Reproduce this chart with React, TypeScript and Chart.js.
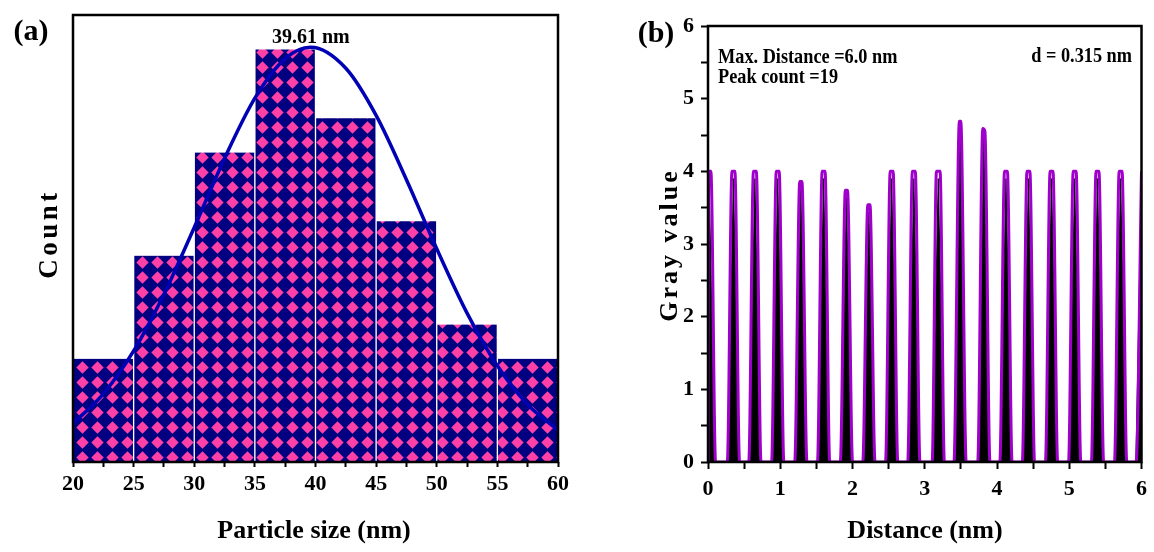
import React, { useEffect, useRef } from 'react';
import { Chart, registerables } from 'chart.js';

Chart.register(...registerables);

// ---------- Panel (a): particle size histogram ----------
const binCenters = [22.5, 27.5, 32.5, 37.5, 42.5, 47.5, 52.5, 57.5];
const binCounts = [3, 6, 9, 12, 10, 7, 4, 3];
const fitX = [20, 22.5, 25, 27.5, 30, 32.5, 35, 37.5, 39.61, 42.5, 45, 47.5, 50, 52.5, 55, 57.5, 60];
const fitY = [1.12, 1.98, 3.23, 4.88, 6.82, 8.83, 10.58, 11.73, 12.06, 11.45, 10.08, 8.21, 6.2, 4.33, 2.8, 1.67, 0.93];
const sizeTickLabels = ['20', '25', '30', '35', '40', '45', '50', '55', '60'];
const peakValue = 39.61;
const peakText = '39.61 nm';

// ---------- Panel (b): gray value line profile ----------
const grayProfile: [number, number][] = [
  [0, 0], [0.005, 4.0], [0.04, 4.0], [0.105, 0],
  [0.267, 0], [0.332, 4.0], [0.372, 4.0], [0.437, 0],
  [0.564, 0], [0.629, 4.0], [0.669, 4.0], [0.734, 0],
  [0.88, 0], [0.945, 4.0], [0.985, 4.0], [1.05, 0],
  [1.2, 0], [1.27, 3.86], [1.3, 3.86], [1.37, 0],
  [1.515, 0], [1.58, 4.0], [1.62, 4.0], [1.685, 0],
  [1.831, 0], [1.901, 3.74], [1.931, 3.74], [2.001, 0],
  [2.142, 0], [2.212, 3.54], [2.242, 3.54], [2.312, 0],
  [2.457, 0], [2.522, 4.0], [2.562, 4.0], [2.627, 0],
  [2.764, 0], [2.829, 4.0], [2.869, 4.0], [2.934, 0],
  [3.102, 0], [3.162, 4.0], [3.212, 4.0], [3.272, 0],
  [3.404, 0], [3.479, 4.69], [3.499, 4.69], [3.574, 0],
  [3.733, 0], [3.803, 4.59], [3.833, 4.55], [3.903, 0],
  [4.039, 0], [4.104, 4.0], [4.144, 4.0], [4.209, 0],
  [4.35, 0], [4.415, 4.0], [4.455, 4.0], [4.52, 0],
  [4.67, 0], [4.735, 4.0], [4.775, 4.0], [4.84, 0],
  [4.99, 0], [5.055, 4.0], [5.095, 4.0], [5.16, 0],
  [5.306, 0], [5.371, 4.0], [5.411, 4.0], [5.476, 0],
  [5.626, 0], [5.691, 4.0], [5.731, 4.0], [5.796, 0],
  [5.925, 0], [6.0, 4.0],
];
const rawSpikes: [number, number][] = [
  [0, 0], [0.015, 3.9], [0.095, 0],
  [0.27, 0], [0.352, 3.9], [0.434, 0],
  [0.567, 0], [0.649, 3.9], [0.731, 0],
  [0.883, 0], [0.965, 3.9], [1.047, 0],
  [1.203, 0], [1.285, 3.76], [1.367, 0],
  [1.518, 0], [1.6, 3.9], [1.682, 0],
  [1.834, 0], [1.916, 3.64], [1.998, 0],
  [2.145, 0], [2.227, 3.44], [2.309, 0],
  [2.46, 0], [2.542, 3.9], [2.624, 0],
  [2.767, 0], [2.849, 3.9], [2.931, 0],
  [3.105, 0], [3.187, 3.9], [3.269, 0],
  [3.407, 0], [3.489, 4.55], [3.571, 0],
  [3.736, 0], [3.818, 4.45], [3.9, 0],
  [4.042, 0], [4.124, 3.9], [4.206, 0],
  [4.353, 0], [4.435, 3.9], [4.517, 0],
  [4.673, 0], [4.755, 3.9], [4.837, 0],
  [4.993, 0], [5.075, 3.9], [5.157, 0],
  [5.309, 0], [5.391, 3.9], [5.473, 0],
  [5.629, 0], [5.711, 3.9], [5.793, 0],
  [5.922, 0], [6.0, 3.9],
];
const distTickLabels = ['0', '1', '2', '3', '4', '5', '6'];
const grayTickLabels = ['0', '1', '2', '3', '4', '5', '6'];
const infoLines = ['Max. Distance =6.0 nm', 'Peak count =19'];
const spacingText = 'd = 0.315 nm';

const SERIF = "'Liberation Serif', 'Times New Roman', serif";

type TextItem = {
  text: string;
  x: number | ((c: any) => number);
  y: number | ((c: any) => number);
  size: number;
  align?: CanvasTextAlign;
  rotate?: boolean;
  spacing?: number;
  scaleX?: number;
};

function textPlugin(id: string, items: TextItem[]) {
  return {
    id,
    afterDraw(chart: any) {
      const ctx = chart.ctx as CanvasRenderingContext2D;
      items.forEach((it) => {
        const x = typeof it.x === 'function' ? it.x(chart) : it.x;
        const y = typeof it.y === 'function' ? it.y(chart) : it.y;
        ctx.save();
        ctx.font = `bold ${it.size}px ${SERIF}`;
        ctx.fillStyle = '#000';
        (ctx as any).letterSpacing = `${it.spacing || 0}px`;
        ctx.textAlign = it.align || 'center';
        ctx.textBaseline = 'alphabetic';
        ctx.translate(x, y);
        if (it.rotate) ctx.rotate(-Math.PI / 2);
        if (it.scaleX) ctx.scale(it.scaleX, 1);
        ctx.fillText(it.text, 0, 0);
        ctx.restore();
      });
    },
  };
}

const framePlugin = {
  id: 'frame',
  afterDatasetsDraw(chart: any) {
    const { ctx, chartArea } = chart;
    ctx.save();
    ctx.strokeStyle = '#000';
    ctx.lineWidth = 2.5;
    ctx.strokeRect(chartArea.left, chartArea.top, chartArea.right - chartArea.left, chartArea.bottom - chartArea.top);
    ctx.restore();
  },
};

function makePattern(ctx: CanvasRenderingContext2D): CanvasPattern | string {
  const s = 15;
  const r = 6.2;
  const tile = document.createElement('canvas');
  tile.width = s;
  tile.height = s;
  const g = tile.getContext('2d')!;
  g.fillStyle = '#000080';
  g.fillRect(0, 0, s, s);
  g.fillStyle = '#FF40A6';
  const cx = s / 2;
  const cy = s / 2;
  g.beginPath();
  g.moveTo(cx, cy - r);
  g.lineTo(cx + r, cy);
  g.lineTo(cx, cy + r);
  g.lineTo(cx - r, cy);
  g.closePath();
  g.fill();
  return ctx.createPattern(tile, 'repeat') || '#000080';
}

export default function App() {
  const leftRef = useRef<HTMLCanvasElement>(null);
  const rightRef = useRef<HTMLCanvasElement>(null);

  useEffect(() => {
    const lc = leftRef.current!;
    const rc = rightRef.current!;
    const pattern = makePattern(lc.getContext('2d')!);
    const tickFont = { family: SERIF, size: 22, weight: 'bold' as const };

    const left = new Chart(lc, {
      type: 'bar',
      data: {
        datasets: [
          {
            type: 'line',
            data: fitX.map((x, i) => ({ x, y: fitY[i] })),
            borderColor: '#0000B4',
            borderWidth: 3.5,
            pointRadius: 0,
            cubicInterpolationMode: 'monotone',
            fill: false,
            order: 0,
          } as any,
          {
            type: 'bar',
            data: binCenters.map((x, i) => ({ x, y: binCounts[i] })),
            backgroundColor: pattern as any,
            borderColor: '#ffffff',
            borderWidth: { left: 1, right: 1, top: 0, bottom: 0 },
            borderSkipped: false,
            barThickness: 'flex',
            barPercentage: 1,
            categoryPercentage: 1,
            order: 1,
          } as any,
        ],
      },
      options: {
        responsive: false,
        animation: false,
        layout: { padding: { left: 0, right: 42, top: 15, bottom: 0 } },
        plugins: { legend: { display: false }, tooltip: { enabled: false } },
        scales: {
          x: {
            type: 'linear',
            min: 20,
            max: 60,
            offset: false,
            ticks: {
              stepSize: 2.5,
              autoSkip: false,
              maxRotation: 0,
              color: '#000',
              font: tickFont,
              padding: 4,
              callback: (v: any) => {
                const i = sizeTickLabels.indexOf(String(v));
                return i >= 0 ? sizeTickLabels[i] : '';
              },
            },
            grid: { offset: false, drawOnChartArea: false, drawTicks: true, tickLength: 5, tickWidth: 2, tickColor: '#000' },
            border: { display: false },
            afterFit: (s: any) => { s.height = 90; },
          },
          y: {
            min: 0,
            max: 13,
            ticks: { display: false },
            grid: { display: false },
            border: { display: false },
            afterFit: (s: any) => { s.width = 73; },
          },
        },
      },
      plugins: [
        framePlugin,
        textPlugin('textA', [
          { text: '(a)', x: 31, y: 40, size: 30 },
          { text: peakText, x: (c) => c.scales.x.getPixelForValue(peakValue), y: 43, size: 20 },
          { text: 'Particle size (nm)', x: 314, y: 538, size: 26 },
          { text: 'Count', x: 57, y: 234, size: 27, rotate: true, spacing: 3.5 },
        ]),
      ],
    });

    const right = new Chart(rc, {
      type: 'line',
      data: {
        datasets: [
          {
            data: grayProfile.map(([x, y]) => ({ x, y })),
            borderColor: '#A000CC',
            borderWidth: 3,
            pointRadius: 0,
            cubicInterpolationMode: 'monotone',
            fill: false,
            order: 0,
          } as any,
          {
            data: rawSpikes.map(([x, y]) => ({ x, y })),
            borderColor: '#000',
            borderWidth: 1,
            backgroundColor: '#000',
            pointRadius: 0,
            tension: 0,
            fill: 'origin',
            order: 1,
          } as any,
        ],
      },
      options: {
        responsive: false,
        animation: false,
        layout: { padding: { left: 0, right: 9, top: 26, bottom: 0 } },
        plugins: { legend: { display: false }, tooltip: { enabled: false } },
        scales: {
          x: {
            type: 'linear',
            min: 0,
            max: 6,
            ticks: {
              stepSize: 0.5,
              autoSkip: false,
              maxRotation: 0,
              color: '#000',
              font: tickFont,
              padding: 7,
              callback: (v: any) => {
                const i = distTickLabels.indexOf(String(v));
                return i >= 0 ? distTickLabels[i] : '';
              },
            },
            grid: { drawOnChartArea: false, drawTicks: true, tickLength: 7, tickWidth: 2, tickColor: '#000' },
            border: { display: false },
            afterFit: (s: any) => { s.height = 90; },
          },
          y: {
            type: 'linear',
            min: 0,
            max: 6,
            ticks: {
              stepSize: 0.5,
              autoSkip: false,
              color: '#000',
              font: tickFont,
              padding: 7,
              callback: (v: any) => {
                const i = grayTickLabels.indexOf(String(v));
                return i >= 0 ? grayTickLabels[i] : '';
              },
            },
            grid: { drawOnChartArea: false, drawTicks: true, tickLength: 7, tickWidth: 2, tickColor: '#000' },
            border: { display: false },
            afterFit: (s: any) => { s.width = 108; },
          },
        },
      },
      plugins: [
        framePlugin,
        textPlugin('textB', [
          { text: '(b)', x: 56, y: 42, size: 30 },
          { text: infoLines[0], x: 118, y: 63, size: 21, align: 'left', scaleX: 0.87 },
          { text: infoLines[1], x: 118, y: 83, size: 21, align: 'left', scaleX: 0.87 },
          { text: spacingText, x: 532, y: 62, size: 21, align: 'right', scaleX: 0.87 },
          { text: 'Distance (nm)', x: 325, y: 538, size: 26 },
          { text: 'Gray value', x: 77, y: 245, size: 26, rotate: true, spacing: 3 },
        ]),
      ],
    });

    return () => {
      left.destroy();
      right.destroy();
    };
  }, []);

  return (
    <div style={{ position: 'fixed', left: 0, top: 0, width: 1154, height: 552, background: '#fff' }}>
      <canvas ref={leftRef} width={600} height={552} style={{ position: 'absolute', left: 0, top: 0 }} />
      <canvas ref={rightRef} width={554} height={552} style={{ position: 'absolute', left: 600, top: 0 }} />
    </div>
  );
}
